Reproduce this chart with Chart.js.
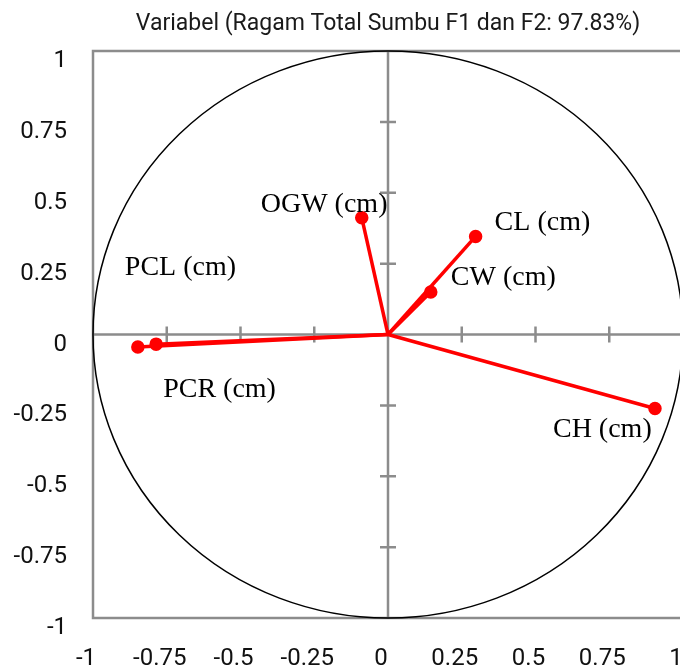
<!DOCTYPE html>
<html>
<head>
<meta charset="utf-8">
<script src="https://cdn.jsdelivr.net/npm/chart.js@4/dist/chart.umd.min.js"></script>
<style>
  html, body { margin: 0; padding: 0; background: #fff; overflow: hidden; }
  #wrap { width: 700px; height: 671px; }
</style>
</head>
<body>
<div id="wrap"><canvas id="pcaChart" width="700" height="671"></canvas></div>
<script>
// Variable loadings on F1 / F2
var varNames = ["CL (cm)", "CW (cm)", "CH (cm)", "OGW (cm)", "PCL (cm)", "PCR (cm)"];
var f1Values = [0.297, 0.145, 0.905, -0.089, -0.848, -0.786];
var f2Values = [0.346, 0.150, -0.261, 0.412, -0.044, -0.034];

// Tick values and their labels (same on both axes)
var tickValues = [-1, -0.75, -0.5, -0.25, 0, 0.25, 0.5, 0.75, 1];
var tickLabels = ["-1", "-0.75", "-0.5", "-0.25", "0", "0.25", "0.5", "0.75", "1"];

var titleText = "Variabel (Ragam Total Sumbu F1 dan F2: 97.83%)";

// where each name sits, in pixels from its point (left edge, baseline)
var labelShift = [[19, -6], [20, -7], [-102, 29], [-101, -6], [-13, -72], [7, 53]];

var axisGrey = "#8c8c8c";

// one dataset per vector: origin -> loading
var datasets = [];
for (var i = 0; i < varNames.length; i++) {
    datasets.push({
        label: varNames[i],
        data: [{ x: 0, y: 0 }, { x: f1Values[i], y: f2Values[i] }],
        borderColor: "#ff0000",
        backgroundColor: "#ff0000",
        borderWidth: 3.5,
        pointRadius: [0, 5],
        pointHoverRadius: [0, 5],
        showLine: true
    });
}

// circle, zero axes with ticks, frame
var backdrop = {
    id: "backdrop",
    beforeDatasetsDraw: function (chart) {
        var ctx = chart.ctx;
        var xs = chart.scales.x, ys = chart.scales.y;
        var area = chart.chartArea;
        var cx = xs.getPixelForValue(0), cy = ys.getPixelForValue(0);
        ctx.save();

        // zero axes
        ctx.strokeStyle = axisGrey;
        ctx.lineWidth = 2.5;
        ctx.beginPath();
        ctx.moveTo(area.left, cy); ctx.lineTo(area.right, cy);
        ctx.moveTo(cx, area.top); ctx.lineTo(cx, area.bottom);
        tickValues.forEach(function (v) {
            if (v === 0 || v === -1 || v === 1) return;
            var px = xs.getPixelForValue(v);
            var py = ys.getPixelForValue(v);
            ctx.moveTo(px, cy - 8); ctx.lineTo(px, cy + 8);
            ctx.moveTo(cx - 8, py); ctx.lineTo(cx + 8, py);
        });
        ctx.stroke();

        // frame
        ctx.strokeRect(area.left, area.top, area.right - area.left, area.bottom - area.top);

        // unit circle
        ctx.strokeStyle = "#000";
        ctx.lineWidth = 1.5;
        ctx.beginPath();
        ctx.ellipse(cx, cy, xs.getPixelForValue(1) - cx, cy - ys.getPixelForValue(1), 0, 0, Math.PI * 2);
        ctx.stroke();
        ctx.restore();
    },
    afterDatasetsDraw: function (chart) {
        var ctx = chart.ctx;
        var xs = chart.scales.x, ys = chart.scales.y;
        ctx.save();
        ctx.font = "28px 'Liberation Serif'";
        ctx.fillStyle = "#000";
        ctx.textAlign = "left";
        ctx.textBaseline = "alphabetic";
        for (var i = 0; i < varNames.length; i++) {
            var px = xs.getPixelForValue(f1Values[i]) + labelShift[i][0];
            var py = ys.getPixelForValue(f2Values[i]) + labelShift[i][1];
            ctx.fillText(varNames[i], px, py);
        }
        // title, narrowed like the original
        ctx.font = "23px Roboto";
        ctx.fillStyle = "#1a1a1a";
        ctx.textAlign = "center";
        var w = ctx.measureText(titleText).width;
        ctx.translate(388, 30);
        ctx.scale(Math.min(1, 510 / w), 1);
        ctx.fillText(titleText, 0, 0);
        ctx.restore();
    }
};

function axisOptions(isX) {
    return {
        type: "linear",
        min: -1,
        max: 1,
        afterBuildTicks: function (scale) {
            scale.ticks = tickValues.map(function (v) { return { value: v }; });
        },
        afterFit: function (scale) {
            if (isX) {
                scale.height = 53;
                // let the plot run past the right edge like the original
                scale.paddingLeft = 0;
                scale.paddingRight = 0;
            } else {
                scale.width = 93;
                scale.paddingTop = 0;
                scale.paddingBottom = 0;
            }
        },
        grid: { display: false, drawTicks: false },
        border: { display: false },
        ticks: {
            autoSkip: false,
            maxRotation: 0,
            padding: isX ? 27 : 26,
            labelOffset: isX ? -7 : 10,
            color: "#111",
            font: { family: "Roboto", size: 24 },
            callback: function (value) {
                var k = tickValues.indexOf(value);
                return k >= 0 ? tickLabels[k] : "";
            }
        }
    };
}

var ctxP = document.getElementById("pcaChart").getContext("2d");
var pcaChart = new Chart(ctxP, {
    type: "scatter",
    data: { datasets: datasets },
    plugins: [backdrop],
    options: {
        responsive: false,
        animation: false,
        devicePixelRatio: 1,
        layout: { padding: { top: 51, left: 0, right: 17, bottom: 0 } },
        plugins: {
            legend: { display: false },
            title: { display: false },
            tooltip: { enabled: false }
        },
        scales: {
            x: axisOptions(true),
            y: axisOptions(false)
        }
    }
});
</script>
</body>
</html>
